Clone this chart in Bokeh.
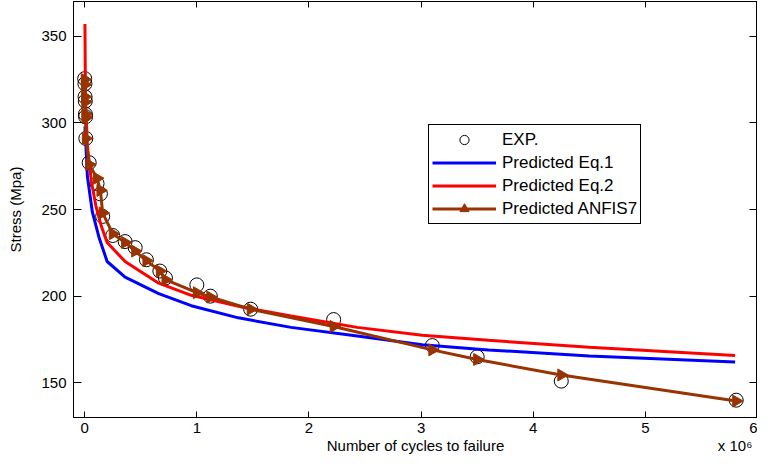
import numpy as np
from bokeh.plotting import figure
from bokeh.models import (LinearAxis, Range1d, Legend, LegendItem,
                          FixedTicker, CustomJSTickFormatter)
from bokeh.embed import file_html
from bokeh.resources import INLINE

# ---- data (x in units of 10^6 cycles, stress in MPa) ----
exp_x = [0.000, 0.002, 0.003, 0.005, 0.006, 0.008, 0.010, 0.040, 0.110, 0.140,
         0.160, 0.250, 0.360, 0.450, 0.550, 0.670, 0.720, 1.000, 1.120, 1.480,
         2.220, 3.100, 3.500, 4.250, 5.810]
exp_s = [325.5, 322.5, 315.0, 312.5, 305.0, 303.5, 291.0, 277.0, 265.0, 259.0,
         246.0, 235.0, 231.5, 228.0, 221.0, 214.5, 210.5, 206.5, 200.0, 192.5,
         186.5, 171.5, 165.0, 151.0, 140.0]
anfis_s = [325.0, 322.0, 315.0, 312.0, 305.0, 303.0, 291.0, 276.0, 268.0, 261.0,
           248.0, 236.0, 231.0, 226.0, 220.5, 214.5, 209.5, 202.0, 199.5, 192.5,
           182.5, 169.0, 163.5, 154.5, 139.5]

eq1_x = [0.002, 0.010, 0.024, 0.068, 0.127, 0.200, 0.360, 0.660, 0.950, 1.370,
         1.840, 2.430, 3.010, 3.600, 4.500, 5.800]
eq1_s = [298.0, 288.0, 269.0, 248.6, 234.0, 220.0, 211.0, 201.5, 194.5, 187.5,
         182.0, 177.0, 172.0, 169.0, 165.5, 162.0]

eq2_x = [0.002, 0.005, 0.010, 0.025, 0.060, 0.100, 0.150, 0.200, 0.360, 0.660,
         0.950, 1.420, 1.840, 2.200, 2.430, 3.010, 3.600, 4.500, 5.800]
eq2_s = [357.0, 330.0, 308.0, 286.0, 266.0, 252.0, 240.0, 231.0, 220.0, 207.5,
         200.5, 193.5, 188.5, 184.5, 182.0, 177.5, 174.5, 170.5, 165.8]

x_ticks = [0, 1, 2, 3, 4, 5, 6]
y_ticks = [150, 200, 250, 300, 350]
x_title = "Number of cycles to failure"
x_exponent = "x 10\u2076"

FONT = "Liberation Sans"
BROWN = "#993300"
X_START, X_END = -0.1, 6.0

p = figure(width=757, height=456, x_range=Range1d(X_START, X_END),
           y_range=Range1d(130, 370), output_backend="svg",
           toolbar_location=None, min_border_left=73, min_border_right=0,
           min_border_top=1, min_border_bottom=0)
p.xgrid.visible = False
p.ygrid.visible = False
p.outline_line_color = "black"
p.outline_line_alpha = 1.0
p.outline_line_width = 1

for ax, tk, tin, st in ((p.xaxis, x_ticks, 6, 5), (p.yaxis, y_ticks, 8, 7)):
    ax.ticker = FixedTicker(ticks=tk)
    ax.major_tick_in = tin
    ax.major_tick_out = 0
    ax.minor_tick_in = 0
    ax.minor_tick_out = 0
    ax.axis_line_color = "black"
    ax.major_tick_line_color = "black"
    ax.major_label_text_font = FONT
    ax.major_label_text_font_size = "15px"
    ax.major_label_text_color = "black"
    ax.major_label_standoff = st
    ax.axis_label_text_font = FONT
    ax.axis_label_text_font_size = "15px"
    ax.axis_label_text_font_style = "normal"
    ax.axis_label_text_color = "black"

p.yaxis.axis_label = "Stress (Mpa)"
p.yaxis.axis_label_standoff = 14

# second row under the x axis: the axis title and the x 10^6 exponent note
title_pos = (X_START + X_END) / 2
exp_pos = 5.80
title_row = LinearAxis(ticker=FixedTicker(ticks=[title_pos, exp_pos]),
                       major_label_overrides={title_pos: x_title,
                                              exp_pos: x_exponent},
                       major_label_text_font=FONT,
                       major_label_text_font_size="15px",
                       major_label_text_color="black",
                       major_label_standoff=1,
                       major_tick_line_color=None, major_tick_in=0,
                       major_tick_out=0, minor_tick_in=0, minor_tick_out=0,
                       axis_line_color=None)
p.add_layout(title_row, "below")

empty = CustomJSTickFormatter(code="return ''")
top = LinearAxis(ticker=FixedTicker(ticks=x_ticks), formatter=empty,
                 major_label_text_font_size="0px", major_label_standoff=0,
                 major_tick_in=6, major_tick_out=0, minor_tick_in=0,
                 minor_tick_out=0, axis_line_color="black")
right = LinearAxis(ticker=FixedTicker(ticks=y_ticks), formatter=empty,
                   major_label_text_font_size="0px", major_label_standoff=0,
                   major_tick_in=8, major_tick_out=0, minor_tick_in=0,
                   minor_tick_out=0, axis_line_color="black")
p.add_layout(top, "above")
p.add_layout(right, "right")

r_exp = p.scatter(exp_x, exp_s, marker="circle", size=14, fill_color=None,
                  line_color="black", line_width=1)
r_eq1 = p.line(eq1_x, eq1_s, line_color="#0000FF", line_width=3)
r_eq2 = p.line(eq2_x, eq2_s, line_color="#FF0000", line_width=3)
r_anl = p.line(exp_x, anfis_s, line_color=BROWN, line_width=3)
r_anm = p.scatter(exp_x, anfis_s, marker="triangle", size=12, angle=-np.pi / 2,
                  fill_color=BROWN, line_color=BROWN)

legend = Legend(items=[
    LegendItem(label="EXP.", renderers=[r_exp]),
    LegendItem(label="Predicted Eq.1", renderers=[r_eq1]),
    LegendItem(label="Predicted Eq.2", renderers=[r_eq2]),
    LegendItem(label="Predicted ANFIS7", renderers=[r_anl, r_anm]),
], location=(355, 193))
legend.border_line_color = "black"
legend.border_line_width = 1
legend.border_line_alpha = 1
legend.background_fill_color = "white"
legend.background_fill_alpha = 1
legend.label_text_font = FONT
legend.label_text_font_size = "17px"
legend.label_text_color = "black"
legend.glyph_width = 64
legend.glyph_height = 23
legend.label_height = 23
legend.spacing = 0
legend.padding = 3
legend.margin = 0
legend.label_standoff = 6
p.add_layout(legend)

open("out.html", "w").write(file_html(p, INLINE))
